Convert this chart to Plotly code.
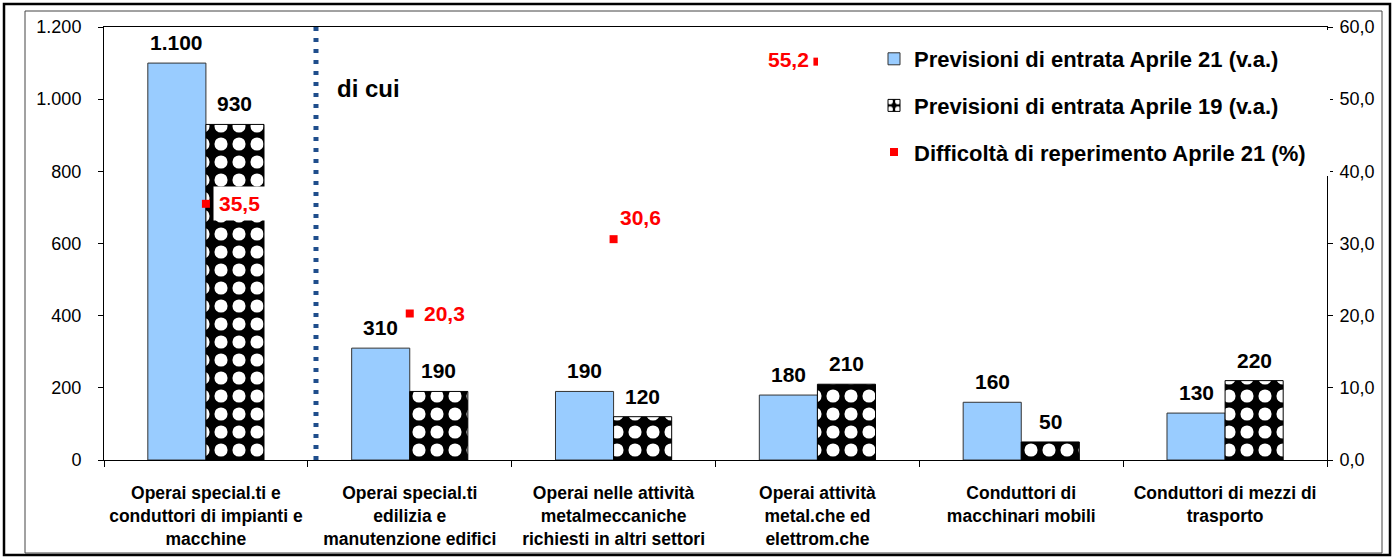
import plotly.graph_objects as go

categories = [
    "Operai special.ti e<br>conduttori di impianti e<br>macchine",
    "Operai special.ti<br>edilizia e<br>manutenzione edifici",
    "Operai nelle attività<br>metalmeccaniche<br>richiesti in altri settori",
    "Operai attività<br>metal.che ed<br>elettrom.che",
    "Conduttori di<br>macchinari mobili",
    "Conduttori di mezzi di<br>trasporto",
]
apr21 = [1100, 310, 190, 180, 160, 130]
apr19 = [930, 190, 120, 210, 50, 220]
diff21 = [35.5, 20.3, 30.6, 55.2, None, None]

name21 = "Previsioni di entrata Aprile 21 (v.a.)"
name19 = "Previsioni di entrata Aprile 19 (v.a.)"
named = "Difficoltà di reperimento Aprile 21 (%)"

W, H = 1393, 558
L, R, T, B = 104, 1327, 27, 460
FONT = "Liberation Sans, Arial, sans-serif"
BARGAP = 0.43


def px(x):
    return (x - L) / (R - L)


def py(y):
    return (B - y) / (B - T)


fig = go.Figure()
fig.add_trace(go.Bar(
    x=categories, y=apr21, name=name21, legendgroup="a",
    marker=dict(color="#99CCFF", line=dict(color="#333333", width=1)),
))
fig.add_trace(go.Bar(
    x=categories, y=apr19, name=name19, legendgroup="b",
    marker=dict(color="black", line=dict(color="black", width=1),
                pattern=dict(shape=".", bgcolor="black", fgcolor="white",
                             fgopacity=1, size=18, solidity=0.42)),
))
fig.add_trace(go.Scatter(
    x=categories, y=diff21, name=named, legendgroup="c", yaxis="y2",
    mode="markers", marker=dict(symbol="square", color="#FF0000", size=8),
    cliponaxis=False,
))

# value labels above the bars
cat_w = (R - L) / len(categories)
half = cat_w * (1 - BARGAP) / 4
for series, sign in ((apr21, -1), (apr19, 1)):
    for c, v in zip(categories, series):
        fig.add_annotation(
            x=c, y=v, xref="x", yref="y", text=f"{v:,}".replace(",", "."),
            showarrow=False, xanchor="center", yanchor="bottom",
            xshift=sign * half, yshift=8, borderpad=0,
            font=dict(family=FONT, size=21, color="black", weight="bold"),
        )

# labels for the percentage markers
label_style = [
    dict(xanchor="left", xshift=7, yshift=0, bgcolor="white"),
    dict(xanchor="left", xshift=8, yshift=0, bgcolor="rgba(0,0,0,0)"),
    dict(xanchor="left", xshift=0, yshift=22, bgcolor="rgba(0,0,0,0)"),
    dict(xanchor="right", xshift=-2, yshift=2, bgcolor="rgba(0,0,0,0)"),
]
for i, (c, v) in enumerate(zip(categories, diff21)):
    if v is None:
        continue
    st = label_style[i]
    fig.add_annotation(
        x=c, y=v, xref="x", yref="y2", text=f"{v:.1f}".replace(".", ","),
        showarrow=False, xanchor=st["xanchor"], yanchor="middle",
        xshift=st["xshift"], yshift=st["yshift"], bgcolor=st["bgcolor"],
        borderpad=5,
        font=dict(family=FONT, size=21, color="#FF0000", weight="bold"),
    )

fig.add_annotation(
    x=px(335), y=py(88), xref="paper", yref="paper", text="di cui",
    showarrow=False, xanchor="left", yanchor="middle",
    font=dict(family=FONT, size=24, color="black", weight="bold"),
)

shapes = [
    # dotted separator
    dict(type="line", xref="x", yref="paper", x0=0.54, x1=0.54, y0=0, y1=1,
         line=dict(color="#1F4E8C", width=5, dash="4px,7px"), layer="above"),
    # white legend area covering marker and axis
    dict(type="rect", xref="paper", yref="paper", x0=px(818), x1=px(1330),
         y0=py(176), y1=py(30), fillcolor="white", line=dict(width=0),
         layer="above"),
    # inner frame
    dict(type="rect", xref="paper", yref="paper", x0=px(25), x1=px(1382),
         y0=py(553), y1=py(11), line=dict(color="#444444", width=1),
         layer="above"),
    # outer frame
    dict(type="rect", xref="paper", yref="paper", x0=px(4), x1=px(1390),
         y0=py(555), y1=py(4), line=dict(color="black", width=2.5),
         layer="above"),
]

fig.update_layout(
    width=W, height=H,
    margin=dict(l=L, r=W - R, t=T, b=H - B, pad=0, autoexpand=False),
    paper_bgcolor="white", plot_bgcolor="white",
    separators=",.",
    barmode="group", bargap=BARGAP, bargroupgap=0,
    font=dict(family=FONT, color="black"),
    showlegend=True,
    legend=dict(x=px(874), y=py(38), xanchor="left", yanchor="top",
                bgcolor="rgba(0,0,0,0)", traceorder="grouped",
                tracegroupgap=15,
                font=dict(family=FONT, size=22, color="black", weight="bold")),
    xaxis=dict(showline=True, linecolor="black", linewidth=1, mirror=True,
               ticks="outside", tickson="boundaries", ticklen=6,
               tickcolor="black", ticklabelstandoff=17, automargin=False,
               tickfont=dict(family=FONT, size=17.5, color="black",
                             weight="bold"),
               showgrid=False),
    yaxis=dict(range=[0, 1200], dtick=200, tickformat=",d",
               showline=True, linecolor="black", linewidth=1,
               ticks="outside", ticklen=5, tickcolor="black",
               ticklabelstandoff=13, automargin=False,
               tickfont=dict(family=FONT, size=18, color="black"),
               showgrid=False, zeroline=False),
    yaxis2=dict(range=[0, 60], dtick=10, tickformat=".1f", overlaying="y",
                side="right", showline=True, linecolor="black", linewidth=1,
                ticks="outside", ticklen=5, tickcolor="black",
                ticklabelstandoff=3, automargin=False,
                tickfont=dict(family=FONT, size=18, color="black"),
                showgrid=False, zeroline=False),
    shapes=shapes,
)

fig.write_html("out.html", config={"displayModeBar": False},
               post_script="document.body.style.margin='0px';")
